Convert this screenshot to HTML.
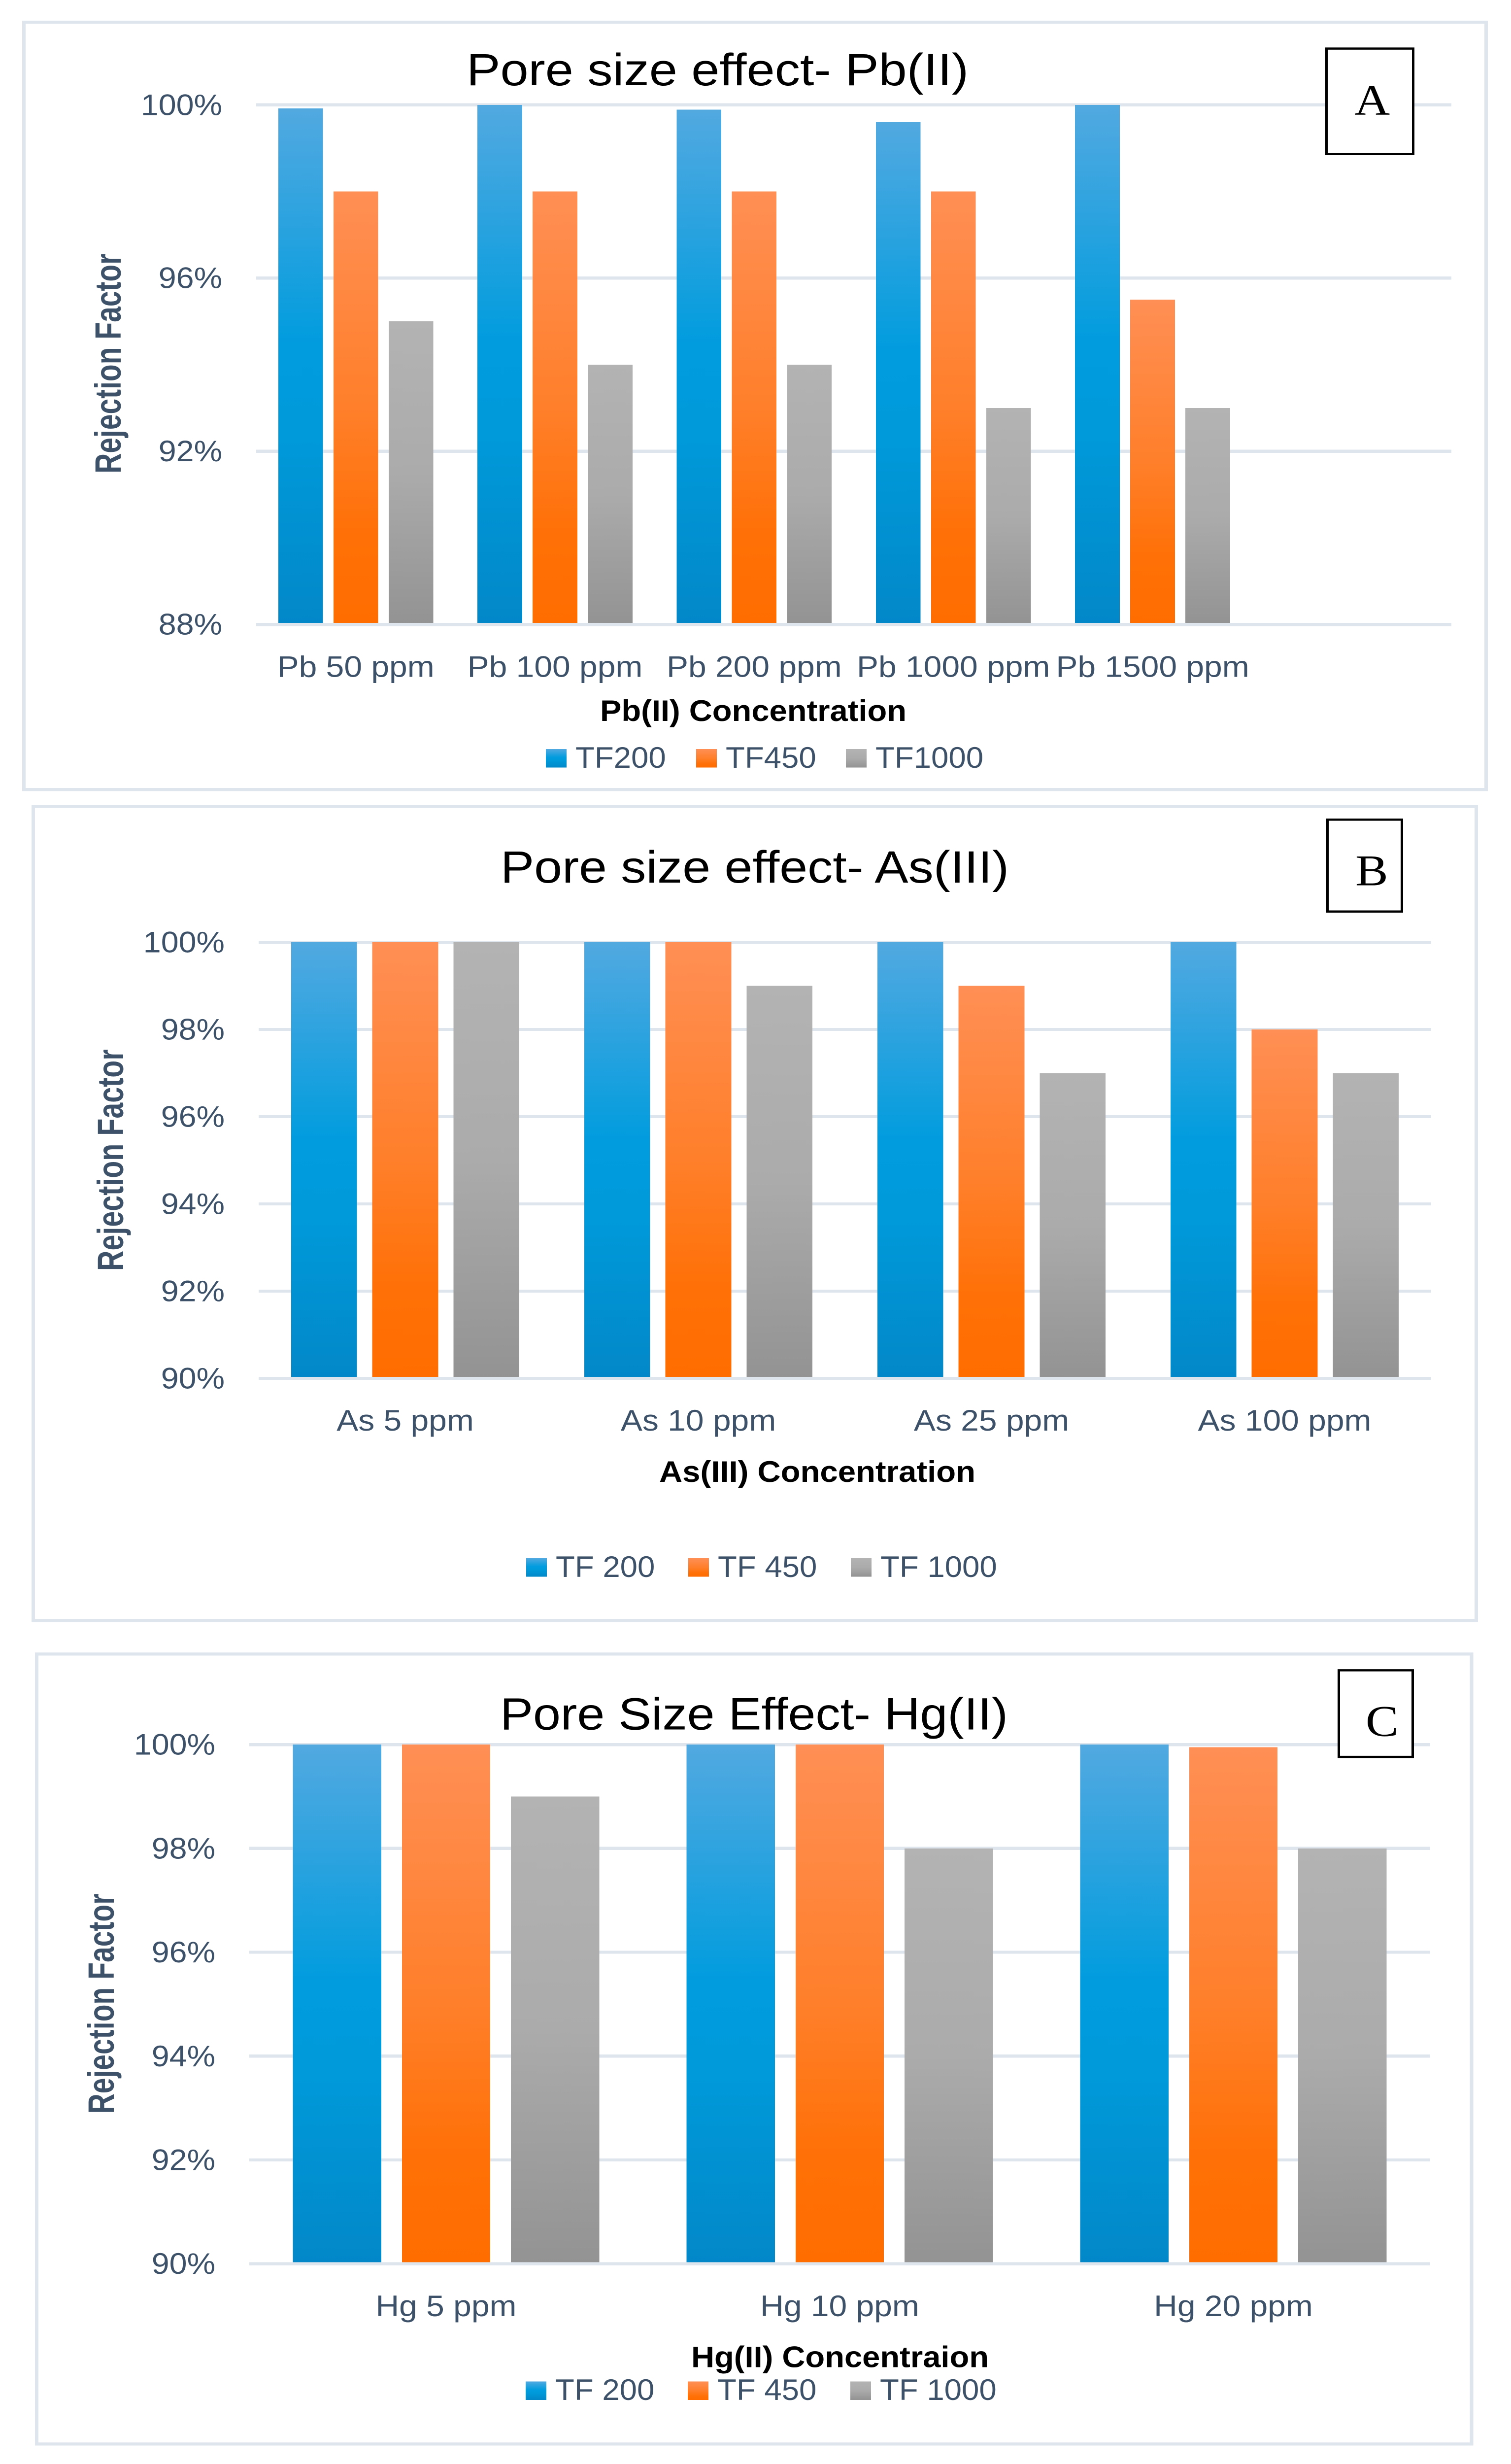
<!DOCTYPE html>
<html lang="en">
<head>
<meta charset="utf-8">
<title>Pore size effect charts</title>
<style>
  html, body { margin: 0; padding: 0; background: #fff; width: 100%; height: 100%; overflow: hidden; }
  svg { display: block; overflow: hidden; width: 100vw; height: 100vh; }
  text { font-family: "Liberation Sans", sans-serif; }
  .chart-title { font-size: 103px; fill: #000; }
  .axis-title { font-size: 68px; font-weight: 700; fill: #000; }
  .y-title { font-size: 74px; font-weight: 700; fill: #3d5269; text-anchor: middle; }
  .tick { font-size: 68px; fill: #3d5269; }
  .badge-letter { font-family: "Liberation Serif", serif; font-size: 100px; fill: #000; }
  .frame { fill: #fff; stroke: #dee5ec; stroke-width: 7; }
  .badge { fill: #fff; stroke: #000; stroke-width: 5; }
</style>
</head>
<body>
<svg id="figure" xmlns="http://www.w3.org/2000/svg" viewBox="0 0 3067 5605" preserveAspectRatio="none">
  <defs>
    <linearGradient id="grad-blue" x1="0" y1="0" x2="0" y2="1">
      <stop offset="0" stop-color="#52a9e0"/>
      <stop offset="0.46" stop-color="#009cde"/>
      <stop offset="0.62" stop-color="#009ada"/>
      <stop offset="1" stop-color="#0288c9"/>
    </linearGradient>
    <linearGradient id="grad-orange" x1="0" y1="0" x2="0" y2="1">
      <stop offset="0" stop-color="#ff8f55"/>
      <stop offset="0.5" stop-color="#ff7f2a"/>
      <stop offset="0.8" stop-color="#ff7006"/>
      <stop offset="1" stop-color="#ff6d00"/>
    </linearGradient>
    <linearGradient id="grad-gray" x1="0" y1="0" x2="0" y2="1">
      <stop offset="0" stop-color="#b3b3b3"/>
      <stop offset="0.5" stop-color="#ababab"/>
      <stop offset="1" stop-color="#939393"/>
    </linearGradient>
  </defs>
  <rect width="3067" height="5605" fill="#fff"/>

  <!-- Chart A -->
  <g>
    <rect class="frame" x="48.5" y="50.5" width="2968" height="1745.5"/>
    <g id="plot-a"></g>
    <text class="chart-title" x="947" y="194" textLength="1019" lengthAdjust="spacingAndGlyphs">Pore size effect- Pb(II)</text>
    <text class="axis-title" x="1218" y="1640" textLength="622" lengthAdjust="spacingAndGlyphs">Pb(II) Concentration</text>
    <text class="y-title" transform="translate(245 827) rotate(-90)" textLength="500" lengthAdjust="spacingAndGlyphs">Rejection Factor</text>
    <rect class="badge" x="2692.5" y="110.5" width="176" height="240"/>
    <text class="badge-letter" x="2749" y="261">A</text>
  </g>

  <!-- Chart B -->
  <g>
    <rect class="frame" x="67.5" y="1834.5" width="2929" height="1851.5"/>
    <g id="plot-b"></g>
    <text class="chart-title" x="1016" y="2008" textLength="1032" lengthAdjust="spacingAndGlyphs">Pore size effect- As(III)</text>
    <text class="axis-title" x="1338" y="3371" textLength="642" lengthAdjust="spacingAndGlyphs">As(III) Concentration</text>
    <text class="y-title" transform="translate(250 2639) rotate(-90)" textLength="504" lengthAdjust="spacingAndGlyphs">Rejection Factor</text>
    <rect class="badge" x="2694.5" y="1864.5" width="151" height="209"/>
    <text class="badge-letter" x="2751" y="2014">B</text>
  </g>

  <!-- Chart C -->
  <g>
    <rect class="frame" x="74.5" y="3762.5" width="2912.5" height="1797"/>
    <g id="plot-c"></g>
    <text class="chart-title" x="1015" y="3934" textLength="1031" lengthAdjust="spacingAndGlyphs">Pore Size Effect- Hg(II)</text>
    <text class="axis-title" x="1403" y="5385" textLength="604" lengthAdjust="spacingAndGlyphs">Hg(II) Concentraion</text>
    <text class="y-title" transform="translate(231 4558) rotate(-90)" textLength="501" lengthAdjust="spacingAndGlyphs">Rejection Factor</text>
    <rect class="badge" x="2717.5" y="3799.5" width="150" height="197"/>
    <text class="badge-letter" x="2772" y="3949">C</text>
  </g>
</svg>

<script>
// ---------- Chart A data ----------
const pbCategories = ['Pb 50 ppm', 'Pb 100 ppm', 'Pb 200 ppm', 'Pb 1000 ppm', 'Pb 1500 ppm', ''];
const pbTF200 = [99.92, 100, 99.89, 99.6, 100];
const pbTF450 = [98, 98, 98, 98, 95.5];
const pbTF1000 = [95, 94, 94, 93, 93];
const pbTicks = [88, 92, 96, 100];
const pbSeriesNames = ['TF200', 'TF450', 'TF1000'];

// ---------- Chart B data ----------
const asCategories = ['As 5 ppm', 'As 10 ppm', 'As 25 ppm', 'As 100 ppm'];
const asTF200 = [100, 100, 100, 100];
const asTF450 = [100, 100, 99, 98];
const asTF1000 = [100, 99, 97, 97];
const asTicks = [90, 92, 94, 96, 98, 100];
const asSeriesNames = ['TF 200', 'TF 450', 'TF 1000'];

// ---------- Chart C data ----------
const hgCategories = ['Hg 5 ppm', 'Hg 10 ppm', 'Hg 20 ppm'];
const hgTF200 = [100, 100, 100];
const hgTF450 = [100, 100, 99.95];
const hgTF1000 = [99, 98, 98];
const hgTicks = [90, 92, 94, 96, 98, 100];
const hgSeriesNames = ['TF 200', 'TF 450', 'TF 1000'];

const SVG_NS = 'http://www.w3.org/2000/svg';
const fills = ['url(#grad-blue)', 'url(#grad-orange)', 'url(#grad-gray)'];
const seriesKeys = ['tf200', 'tf450', 'tf1000'];
const GRID_COLOR = '#dee5ec';
const GRID_WIDTH = 7;
const BAR_FRACTION = 0.2245;
const BAR_STEP_FRACTION = 0.277;

function makeRect(parent, x, y, w, h, fill) {
  const r = document.createElementNS(SVG_NS, 'rect');
  r.setAttribute('x', x);
  r.setAttribute('y', y);
  r.setAttribute('width', w);
  r.setAttribute('height', h);
  r.setAttribute('fill', fill);
  r.setAttribute('shape-rendering', 'crispEdges');
  parent.appendChild(r);
  return r;
}

function makeText(parent, x, y, str, anchor, squeeze) {
  const t = document.createElementNS(SVG_NS, 'text');
  t.setAttribute('class', 'tick');
  t.setAttribute('text-anchor', anchor);
  t.setAttribute('transform', 'translate(' + x + ' ' + y + ') scale(' + squeeze + ' 1)');
  t.textContent = str;
  parent.appendChild(t);
  return t;
}

function drawChart(groupId, prefix, categories, series, ticks, names, layout) {
  const g = document.getElementById(groupId);
  const yMin = ticks[0];
  const yMax = ticks[ticks.length - 1];
  const yScale = function (v) {
    return layout.yBottom - (v - yMin) / (yMax - yMin) * (layout.yBottom - layout.yTop);
  };
  const band = (layout.xRight - layout.xLeft) / categories.length;
  const bandX = function (i) { return layout.xLeft + band * i; };
  const barW = band * BAR_FRACTION;
  const barStep = band * BAR_STEP_FRACTION;
  const groupW = barW * series.length + (barStep - barW) * (series.length - 1);

  // gridlines and y tick labels
  ticks.forEach(function (tick) {
    const y = yScale(tick);
    if (tick !== yMin) {
      const line = makeRect(g, layout.xLeft, y - GRID_WIDTH / 2, layout.xRight - layout.xLeft, GRID_WIDTH, GRID_COLOR);
      
      
    }
    const label = makeText(g, layout.xLeft - 69, y + 23, tick + '%', 'end', 0.95);
    
    
  });

  // bars
  series.forEach(function (values, s) {
    values.forEach(function (v, i) {
      const x = bandX(i) + (band - groupW) / 2 + barStep * s;
      const top = yScale(v);
      const bar = makeRect(g, x, top, barW, yScale(yMin) - top, fills[s]);
      
      
    });
  });

  // baseline drawn over the bars
  const axis = makeRect(g, layout.xLeft, layout.yBottom - GRID_WIDTH / 2, layout.xRight - layout.xLeft, GRID_WIDTH, GRID_COLOR);
  
  

  // category labels
  categories.forEach(function (c, i) {
    if (!c) return;
    const label = makeText(g, bandX(i) + band / 2, layout.yBottom + 119, c, 'middle', 0.97);
    
    
  });

  // legend
  names.forEach(function (name, s) {
    const sx = layout.legendStart[s];
    const swatch = makeRect(g, sx, layout.legendTop, 42, 42, fills[s]);
    
    
    const label = makeText(g, sx + layout.legendTextGap, layout.legendTop + 42.5, name, 'start', 0.935);
    
    
  });
}

drawChart('plot-a', 'chart-a', pbCategories, [pbTF200, pbTF450, pbTF1000], pbTicks, pbSeriesNames, {
  xLeft: 520, xRight: 2946, yTop: 238.5, yBottom: 1420.5,
  legendStart: [1108, 1413, 1717], legendTop: 1704, legendTextGap: 60
});

drawChart('plot-b', 'chart-b', asCategories, [asTF200, asTF450, asTF1000], asTicks, asSeriesNames, {
  xLeft: 525, xRight: 2905, yTop: 2143.5, yBottom: 3135.5,
  legendStart: [1068, 1397, 1727], legendTop: 3544.5, legendTextGap: 60
});

drawChart('plot-c', 'chart-c', hgCategories, [hgTF200, hgTF450, hgTF1000], hgTicks, hgSeriesNames, {
  xLeft: 506, xRight: 2903, yTop: 3968.5, yBottom: 5149.5,
  legendStart: [1067, 1396, 1726], legendTop: 5417, legendTextGap: 60
});
</script>
</body>
</html>
